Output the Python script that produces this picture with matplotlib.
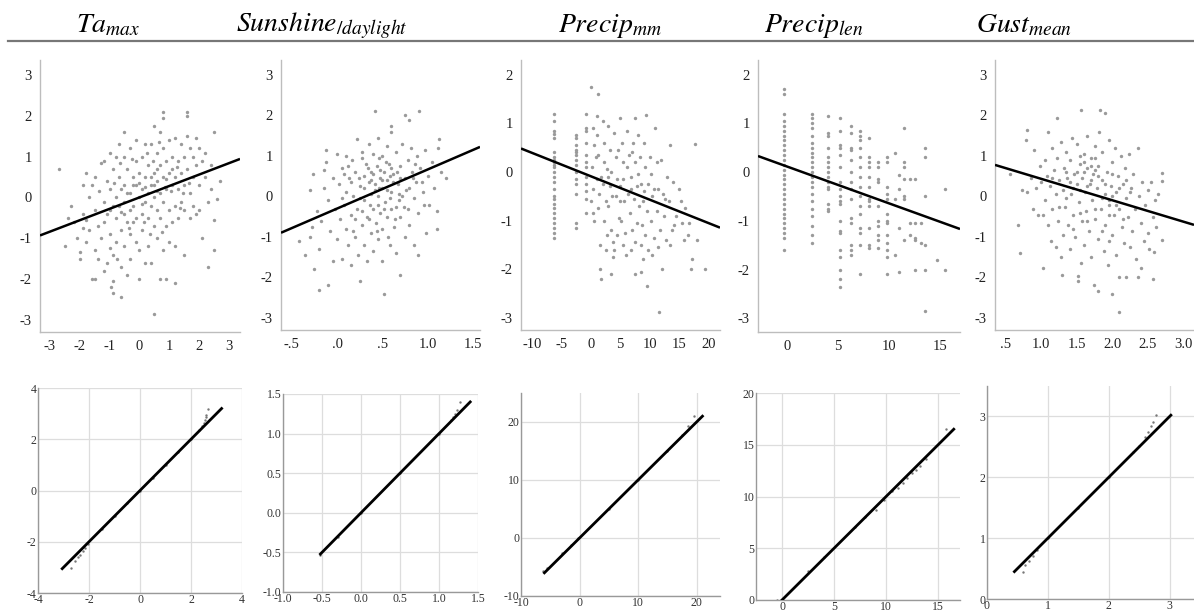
import numpy as np
import matplotlib
matplotlib.use("Agg")
import matplotlib.pyplot as plt

plt.rcParams['font.family'] = ['Liberation Serif', 'DejaVu Serif']
plt.rcParams['mathtext.fontset'] = 'stix'
plt.rcParams['axes.unicode_minus'] = False

W, H = 1194, 610

# ---- titles ----
titles = [r'$Ta_{max}$', r'$Sunshine_{/daylight}$', r'$Precip_{mm}$',
          r'$Precip_{len}$', r'$Gust_{mean}$']
title_x = [108, 322, 610, 814, 1024]

# ---- top row: scatter data ----
ta = [(-2.7,0.7),(-2.5,-1.2),(-2.3,-0.2),(-2.4,-0.5),(-2.2,-0.6),(-2.1,-1.0),(-2.0,-1.5),(-2.0,-1.35),
      (-1.9,-0.4),(-1.9,-0.75),(-1.8,-0.55),(-1.8,-1.1),(-1.7,-0.8),(-1.7,0.0),(-1.6,-2.0),(-1.5,-2.0),
      (-1.9,0.3),(-1.8,0.6),(-1.6,0.3),(-1.5,0.5),(-1.5,-0.3),(-1.5,-1.3),(-1.4,-1.5),(-1.3,0.85),
      (-1.2,0.9),(-1.2,-0.1),(-1.2,-0.6),(-1.3,-1.0),(-1.2,-1.8),(-1.1,-1.6),(-1.1,0.4),(-1.0,1.1),
      (-1.0,0.2),(-1.0,-0.3),(-1.0,-0.9),(-1.0,-1.25),(-0.9,-1.4),(-0.9,-2.05),(-0.95,-2.2),(-0.9,-2.35),
      (-0.9,0.7),(-0.8,1.0),(-0.8,0.0),(-0.8,-0.5),(-0.8,-1.1),(-0.75,-1.5),(-0.7,1.3),(-0.7,0.5),
      (-0.7,-0.2),(-0.6,-2.45),(-0.6,-0.8),(-0.6,-1.7),(-0.5,1.6),(-0.5,1.0),(-0.5,0.3),(-0.5,-0.4),
      (-0.5,-1.2),(-0.4,0.7),(-0.4,-0.6),(-0.4,-1.9),(-0.3,1.2),(-0.3,0.1),(-0.3,-0.9),(-0.3,-1.5),
      (-0.2,0.5),(-0.2,-0.2),(-0.2,-0.6),(-0.1,1.4),(-0.1,0.9),(-0.1,0.3),(-0.1,-0.5),(-0.1,-1.1),
      (0.0,0.0),(0.0,0.6),(0.0,-2.0),(0.0,-1.3),(0.1,1.0),(0.1,0.2),(0.1,-0.4),(0.1,-0.8),
      (0.2,1.3),(0.2,0.5),(0.2,-0.1),(0.2,-1.6),(0.3,0.8),(0.3,-0.5),(0.3,-1.2),(0.4,1.3),
      (0.4,0.3),(0.4,-0.2),(0.4,-1.6),(0.5,1.75),(0.5,0.6),(0.5,0.0),(0.5,-0.7),(0.5,-2.85),
      (0.6,1.1),(0.6,0.4),(0.6,-0.3),(0.6,-1.0),(0.7,1.6),(0.7,0.8),(0.7,0.1),(0.7,-0.5),
      (0.7,-2.0),(0.8,2.1),(0.8,1.95),(0.8,1.2),(0.8,0.5),(0.8,-0.1),(0.8,-1.3),(0.9,0.9),
      (0.9,0.2),(0.9,-0.7),(0.9,-2.0),(1.0,1.4),(1.0,0.6),(1.0,-0.3),(1.0,-1.1),(1.1,1.0),
      (1.1,0.3),(1.1,-0.6),(1.2,1.45),(1.2,0.5),(1.2,-0.2),(1.2,-1.2),(1.2,-2.1),(1.3,0.9),
      (1.3,0.2),(1.3,-0.5),(1.4,1.3),(1.4,0.6),(1.4,-0.1),(1.5,1.0),(1.5,0.3),(1.5,-0.3),
      (1.5,-1.4),(1.6,2.1),(1.6,2.0),(1.6,1.5),(1.6,0.7),(1.7,1.2),(1.7,0.1),(1.7,-0.5),
      (1.8,1.0),(1.8,0.5),(1.8,-0.2),(1.9,1.45),(1.9,0.8),(1.9,-0.4),(2.0,1.2),(2.0,0.3),
      (2.0,-0.3),(2.1,0.9),(2.1,-1.0),(2.2,0.5),(2.2,1.1),(2.3,-0.1),(2.3,-1.7),(2.4,0.8),
      (2.5,1.6),(2.5,-0.55),(2.5,-1.3),(2.6,-0.05),(2.7,0.4),(2.4,0.2),
      (-0.6,0.2),(-0.4,0.1),(-0.2,0.3),(0.0,0.35),(0.2,0.25),(0.4,0.5),(0.6,0.15),(0.3,0.1),
      (-0.3,-0.3),(0.1,-0.15),(0.5,0.3),(-0.5,-0.1),(0.9,0.45),(1.1,0.7),(-0.9,-0.2),(0.6,0.7),
      (-1.4,-0.7),(-1.1,-0.4),(-0.6,-0.35),(-0.35,-0.75),(0.15,-0.6),(0.35,-0.9),(0.75,-0.85),
      (1.05,0.15),(1.25,0.75),(1.45,0.1),(-0.65,0.85),(-0.25,0.95),(0.25,1.1),(0.65,1.35),
      (-1.35,0.15),(-0.85,0.35),(0.45,0.9),(0.85,0.25),(1.35,-0.25),(1.65,0.35)]
ta_x = [p[0] for p in ta]
ta_y = [p[1] for p in ta]

sun = [(-0.42,-1.1),(-0.35,-1.45),(-0.3,0.15),(-0.3,-1.0),(-0.27,0.55),(-0.25,-1.8),(-0.22,-0.35),
       (-0.2,-2.3),(-0.2,-1.3),(-0.18,-0.6),(-0.15,0.2),(-0.12,1.15),(-0.12,0.85),(-0.1,-2.2),
       (-0.1,-0.1),(-0.08,-0.85),(-0.05,0.45),(-0.05,-1.6),(-0.02,-0.3),(0.0,1.05),(0.0,-1.05),
       (0.02,0.3),(0.03,-0.55),(0.05,0.7),(0.05,-1.55),(0.08,-0.2),(0.1,1.0),(0.1,0.1),(0.1,-0.8),
       (0.12,-1.2),(0.13,0.45),(0.15,-1.7),(0.15,-0.45),(0.17,0.9),(0.18,0.0),(0.2,-1.0),(0.2,0.6),
       (0.22,1.43),(0.22,-0.3),(0.23,-1.45),(0.25,0.25),(0.25,-2.1),(0.27,-0.7),(0.28,1.1),(0.3,0.5),
       (0.3,-0.1),(0.3,-1.2),(0.32,0.8),(0.33,-0.5),(0.33,-1.6),(0.35,0.35),(0.35,1.3),(0.37,-0.9),
       (0.37,0.05),(0.38,0.6),(0.4,-0.3),(0.4,1.05),(0.4,-1.35),(0.42,2.1),(0.42,0.3),(0.43,-0.65),
       (0.44,0.75),(0.45,1.45),(0.45,0.0),(0.45,-1.05),(0.47,0.45),(0.48,-0.4),(0.5,1.0),(0.5,0.2),
       (0.5,-0.8),(0.5,-1.6),(0.52,-2.42),(0.52,0.6),(0.53,-0.15),(0.55,1.25),(0.55,0.4),(0.55,-0.5),
       (0.57,0.8),(0.58,-1.2),(0.6,1.75),(0.6,1.6),(0.6,0.1),(0.6,-0.3),(0.62,0.55),(0.63,-0.75),
       (0.65,1.1),(0.65,-1.4),(0.67,0.3),(0.68,-0.1),(0.7,0.75),(0.7,-1.95),(0.7,-0.5),(0.72,1.3),
       (0.72,0.0),(0.75,2.0),(0.75,0.45),(0.75,-1.0),(0.78,0.9),(0.78,-0.3),(0.8,1.9),(0.8,0.2),
       (0.8,-0.7),(0.82,1.2),(0.83,0.6),(0.85,-1.2),(0.85,-0.05),(0.87,0.35),(0.88,1.0),(0.9,-1.45),
       (0.9,-0.4),(0.91,2.1),(0.92,0.7),(0.95,0.1),(0.97,1.15),(0.98,-0.9),(1.0,0.5),(1.02,-0.2),
       (1.05,0.85),(1.07,0.2),(1.1,-0.35),(1.1,-0.8),(1.13,1.42),(1.15,0.6),(1.2,0.45),(1.12,1.2),
       (-0.28,-0.75),(-0.15,0.65),(0.08,0.55),(0.27,0.95),(0.36,-0.2),(0.46,0.95),(0.56,-1.0),
       (0.66,0.6),(0.76,0.15),(0.86,0.8),(0.96,-0.2),(0.4,0.55),(0.5,0.4),(0.6,0.7),(0.35,-0.55),
       (0.45,-0.2),(0.25,-0.05),(0.15,0.35),(0.65,-0.25),(0.55,0.15),(0.42,0.15),(0.52,-0.3),
       (0.62,0.35),(0.38,0.4),(0.48,0.65),(0.58,0.5),(0.68,0.05),(0.3,0.2),(0.2,-0.55),(0.7,0.45),
       (0.05,-0.05),(0.12,0.75),(0.18,-0.85),(0.28,-0.35),(0.34,0.7),(0.44,-0.85),(0.54,0.85),
       (0.64,-0.55),(0.74,-0.25),(0.84,0.45),(0.94,0.35),(0.24,0.45),(0.46,0.2),(0.58,-0.05)]
sun_x = [p[0] for p in sun]
sun_y = [p[1] for p in sun]

pmm_col_a = [1.2,1.05,0.85,0.78,0.7,0.4,0.3,0.25,0.2,0.15,0.1,0.0,-0.1,-0.2,-0.35,-0.5,-0.55,
             -0.65,-0.75,-0.85,-0.95,-1.05,-1.15,-1.25,-1.35]
pmm_col_b = [0.75,0.7,0.55,0.45,0.4,0.35,0.25,0.15,0.0,-0.15,-0.25,-0.45,-1.05,-1.15]
pmm_col_c = [1.2,0.9,0.85,0.6,0.35,0.2,0.1,-0.1,-0.25,-0.4,-0.55,-0.85]
pmm = [(0.0,1.74),(0.3,0.9),(0.5,0.55),(0.2,0.1),(0.4,-0.35),(0.1,-0.6),(0.3,-0.85),(0.6,-1.0),
       (1.0,1.15),(1.2,1.6),(1.1,0.75),(1.3,0.35),(1.0,-0.15),(1.4,-0.45),(1.2,-0.75),(1.5,-1.5),
       (1.5,-2.0),(1.8,-2.2),(2.0,1.05),(2.2,0.6),(2.3,0.2),(2.0,-0.25),(2.5,-0.6),(2.2,-1.0),
       (2.8,-1.3),(2.5,-1.6),(3.0,0.95),(3.3,0.45),(3.5,0.0),(3.2,-0.3),(3.0,-0.7),(3.5,-1.2),
       (3.8,-1.75),(3.4,-2.1),(3.7,-1.45),(4.0,0.8),(4.3,0.3),(4.5,-0.15),(4.2,-0.5),(4.8,-0.95),
       (4.5,-1.3),(4.0,-1.6),(5.0,1.1),(5.3,0.6),(5.5,0.2),(5.0,-0.3),(5.7,-0.6),(5.2,-1.0),
       (5.5,-1.5),(6.0,-1.7),(5.8,-1.25),(6.2,0.85),(6.5,0.35),(6.8,-0.1),(6.3,-0.45),(6.6,-0.85),
       (7.0,-1.2),(6.8,-1.6),(7.2,0.6),(7.5,1.1),(7.5,0.2),(7.8,-0.3),(7.3,-0.55),(7.8,-1.05),
       (7.5,-2.1),(7.6,-1.45),(8.0,0.75),(8.3,0.3),(8.5,-0.25),(8.2,-0.7),(8.7,-1.1),(8.5,-1.5),
       (8.5,-2.05),(8.8,-1.8),(9.0,0.6),(9.4,1.16),(9.3,0.1),(9.0,-0.4),(9.5,-0.8),(9.2,-1.3),
       (9.5,-2.35),(9.8,-1.6),(10.0,0.3),(10.3,-0.05),(10.5,-0.5),(10.2,-1.0),(10.8,-1.35),
       (10.5,-1.7),(11.0,0.9),(11.2,0.2),(11.5,-0.35),(11.3,-0.8),(11.6,-2.88),(11.8,-1.2),
       (11.5,-1.55),(12.0,0.25),(12.3,-0.45),(12.5,-0.9),(12.2,-2.0),(12.8,-1.4),(13.0,-0.1),
       (13.5,0.55),(13.3,-0.6),(13.8,-1.2),(13.5,-1.5),(14.0,-0.2),(14.5,-0.9),(14.2,-1.1),
       (15.0,-0.35),(15.3,-0.6),(15.5,-1.05),(15.8,-1.4),(16.0,-0.75),(16.5,-1.3),(17.0,-2.0),
       (17.3,-1.8),(17.7,0.58),(18.0,-1.4),(19.5,-2.0),(16.8,-1.05),
       (0.8,0.3),(1.7,-0.1),(2.7,0.05),(3.6,-0.5),(4.6,0.45),(5.4,-0.15),(6.1,0.1),(6.9,-0.35),
       (7.0,0.4),(8.1,-0.05),(8.9,-0.6),(9.7,-0.25),(10.7,-0.35),(12.6,-0.55),(4.9,-0.6),(2.9,-0.1)]
pmm_x = [-6.2] * len(pmm_col_a) + [-2.6] * len(pmm_col_b) + [-0.9] * len(pmm_col_c) + [p[0] for p in pmm]
pmm_y = pmm_col_a + pmm_col_b + pmm_col_c + [p[1] for p in pmm]

# precip length: discrete x values, each with its y values
plen_cols = {
    -0.3: [1.7,1.6,1.2,1.05,0.95,0.85,0.75,0.65,0.55,0.45,0.35,0.25,0.15,0.05,-0.05,-0.15,-0.25,
           -0.35,-0.45,-0.55,-0.65,-0.75,-0.85,-0.95,-1.05,-1.15,-1.25,-1.35,-1.6],
    2.5: [1.2,1.1,1.0,0.9,0.75,0.6,0.5,0.4,0.3,0.2,0.1,0.0,-0.1,-0.2,-0.3,-0.45,-0.6,-0.75,-0.9,
          -1.1,-1.3,-1.45],
    4.0: [1.15,0.8,0.75,0.5,0.3,0.2,0.1,0.0,-0.1,-0.2,-0.3,-0.35,-0.65,-0.75,-0.8],
    5.2: [1.1,0.85,0.55,0.5,0.35,0.1,-0.2,-0.35,-0.5,-0.6,-0.65,-1.0,-1.2,-1.25,-1.6,-1.75,-2.0,
          -2.2,-2.35],
    6.3: [0.95,0.8,0.5,0.45,0.25,0.0,-0.2,-0.35,-0.55,-0.95,-1.05,-1.5,-1.6,-1.7],
    7.2: [0.85,0.75,0.65,0.5,0.3,0.1,-0.1,-0.3,-0.5,-0.7,-0.85,-1.15,-1.25,-1.5,-2.1],
    8.1: [0.7,0.3,0.2,0.1,-0.1,-0.3,-0.55,-0.6,-0.7,-1.15,-1.5,-1.55],
    8.9: [0.2,0.1,-0.15,-0.2,-0.7,-1.0,-1.1,-1.3,-1.4,-1.55],
    9.8: [0.3,0.2,-0.3,-0.45,-0.55,-0.85,-1.0,-1.05,-1.3,-1.45,-1.6,-1.75,-2.1],
    10.6: [0.4,-0.55,-1.7],
    11.0: [-0.05,-0.35,-1.15,-2.05],
    11.5: [0.9,0.2,0.1,-0.15,-0.5,-0.55,-1.4],
    12.1: [-0.15,-1.05,-1.3],
    12.6: [-0.15,-1.05,-1.35,-1.4,-2.0],
    13.2: [-1.05,-1.45],
    13.6: [0.5,0.3,-0.5,-1.5,-2.0,-2.85],
    14.7: [-1.8],
    15.5: [-0.35,-2.0],
}
plen_x = [x for x, ys in plen_cols.items() for _ in ys]
plen_y = [y for ys in plen_cols.values() for y in ys]

gust = [(0.55,0.55),(0.67,-0.7),(0.7,-1.4),(0.72,0.15),(0.78,1.4),(0.8,1.64),(0.8,0.1),(0.85,0.45),
        (0.88,-0.3),(0.9,1.15),(0.92,0.2),(0.95,-0.45),(0.98,0.75),(1.0,0.35),(1.02,-1.77),
        (1.02,-0.45),(1.05,0.9),(1.05,-0.1),(1.08,0.5),(1.1,1.6),(1.1,-0.7),(1.12,0.25),(1.13,-1.1),
        (1.15,1.2),(1.15,-0.3),(1.18,0.65),(1.2,-1.25),(1.2,0.05),(1.22,1.93),(1.22,0.95),
        (1.24,-0.6),(1.25,0.4),(1.27,-1.5),(1.28,1.35),(1.29,-1.93),(1.3,0.15),(1.3,-0.95),
        (1.32,0.7),(1.33,-0.25),(1.35,1.1),(1.36,0.45),(1.38,-0.7),(1.4,-1.3),(1.4,0.9),(1.42,0.05),
        (1.43,1.45),(1.45,-0.45),(1.46,0.55),(1.48,-1.0),(1.5,1.3),(1.5,0.3),(1.52,-1.97),
        (1.52,-2.1),(1.53,-0.15),(1.55,0.8),(1.56,2.14),(1.56,-1.65),(1.57,-0.6),(1.58,0.45),
        (1.6,1.05),(1.6,-1.2),(1.62,0.1),(1.63,-0.35),(1.65,0.7),(1.65,1.5),(1.67,-0.85),(1.68,0.3),
        (1.7,-1.5),(1.7,0.95),(1.72,-0.1),(1.73,0.55),(1.74,-2.2),(1.75,1.25),(1.76,-0.55),
        (1.78,0.2),(1.8,-1.05),(1.8,0.75),(1.8,-2.34),(1.82,1.6),(1.83,2.14),(1.84,-0.3),(1.85,0.4),
        (1.86,1.1),(1.88,-1.35),(1.9,2.05),(1.9,0.05),(1.9,-0.7),(1.92,0.6),(1.94,-1.7),(1.95,1.4),
        (1.96,-0.2),(1.98,0.25),(2.0,-2.42),(2.0,-0.95),(2.0,0.85),(2.02,-0.45),(2.04,1.2),
        (2.05,0.1),(2.06,-1.45),(2.08,0.5),(2.1,-2.85),(2.1,-2.0),(2.1,-0.3),(2.12,1.0),
        (2.14,-0.75),(2.15,0.3),(2.17,-1.15),(2.18,0.7),(2.2,-2.0),(2.2,-0.05),(2.22,-0.5),
        (2.24,1.05),(2.25,-1.25),(2.27,0.2),(2.28,-0.85),(2.3,0.55),(2.32,-0.3),(2.34,-1.55),
        (2.36,1.2),(2.36,-1.98),(2.38,0.0),(2.4,-0.65),(2.41,-1.77),(2.42,0.35),(2.45,-1.1),
        (2.47,-0.2),(2.5,0.15),(2.5,-0.9),(2.52,-1.3),(2.55,0.35),(2.57,-0.5),(2.58,-2.05),
        (2.59,-1.38),(2.6,-0.1),(2.62,-0.75),(2.65,0.05),(2.7,0.58),(2.7,0.37),(2.7,-1.07),
        (1.6,0.6),(1.7,0.4),(1.75,0.65),(1.65,0.25),(1.85,-0.05),(1.95,-0.1),(2.05,-0.2),
        (1.55,0.15),(1.45,0.2),(1.35,-0.05),(1.7,0.75),(1.8,0.5),(1.9,0.3),(2.0,0.0),(1.6,0.85),
        (1.5,0.6),(1.4,0.35),(1.75,-0.3),(2.1,0.2),(2.2,0.4),
        (1.25,-0.25),(1.45,-0.8),(1.55,-0.4),(1.65,-0.6),(1.85,-0.85),(1.95,-0.45),(2.15,-0.55),
        (1.35,0.6),(1.55,1.0),(1.75,0.95),(2.0,0.55),(2.25,0.1),(1.15,0.45),(1.95,-1.1)]
gust_x = [p[0] for p in gust]
gust_y = [p[1] for p in gust]

scatter_x = [ta_x, sun_x, pmm_x, plen_x, gust_x]
scatter_y = [ta_y, sun_y, pmm_y, plen_y, gust_y]

# fitted lines: slope, intercept
fit_slope = [0.28, 0.964, -0.048, -0.0754, -0.527]
fit_icept = [0.0, -0.30, -0.09, 0.115, 0.96]

top_xlim = [(-3.33, 3.37), (-0.62, 1.58), (-11.9, 22.0), (-2.85, 17.0), (0.345, 3.155)]
top_ylim = [(-3.3, 3.37), (-3.3, 3.37), (-3.25, 2.3), (-3.28, 2.3), (-3.3, 3.37)]
top_xticks = [[-3, -2, -1, 0, 1, 2, 3], [-0.5, 0, 0.5, 1.0, 1.5], [-10, -5, 0, 5, 10, 15, 20],
              [0, 5, 10, 15], [0.5, 1.0, 1.5, 2.0, 2.5, 3.0]]
top_xlabels = [['-3', '-2', '-1', '0', '1', '2', '3'], ['-.5', '.0', '.5', '1.0', '1.5'],
               ['-10', '-5', '0', '5', '10', '15', '20'], ['0', '5', '10', '15'],
               ['.5', '1.0', '1.5', '2.0', '2.5', '3.0']]
top_yticks = [[-3, -2, -1, 0, 1, 2, 3], [-3, -2, -1, 0, 1, 2, 3], [-3, -2, -1, 0, 1, 2],
              [-3, -2, -1, 0, 1, 2], [-3, -2, -1, 0, 1, 2, 3]]

# ---- bottom row: Q-Q plots ----
qq_ta = [(-2.71,-3.01),(-2.56,-2.74),(-2.45,-2.6),(-2.35,-2.5),(-2.25,-2.38),(-2.15,-2.25),
         (-2.05,-2.1),(-1.5,-1.5),(-1.0,-1.0),(-0.5,-0.5),(0.0,0.0),(0.5,0.5),(1.0,1.0),(1.5,1.5),
         (2.0,2.0),(2.3,2.35),(2.45,2.5),(2.52,2.65),(2.55,2.75),(2.58,2.85),(2.6,2.95),(2.65,3.2)]
qq_sun = [(-0.52,-0.53),(-0.3,-0.3),(0.0,0.0),(0.5,0.5),(1.0,1.0),(1.15,1.17),(1.18,1.21),
          (1.21,1.25),(1.23,1.3),(1.27,1.4)]
qq_pmm = [(-6.2,-5.7),(-5.5,-5.2),(-3.0,-2.5),(-1.5,-1.2),(-0.3,0.0),(5.0,5.0),(10.0,10.0),
          (15.0,15.0),(17.5,17.8),(18.5,19.3),(19.5,21.0)]
qq_plen = [(-0.5,0.0),(2.5,2.8),(4.0,4.2),(7.0,7.1),(8.0,8.0),(9.0,8.7),(9.8,9.7),(10.6,10.5),
           (11.1,10.8),(11.6,11.3),(12.0,11.8),(12.5,12.3),(12.9,12.6),(13.3,12.9),(13.8,13.6),
           (15.8,16.5)]
qq_gust = [(0.59,0.44),(0.63,0.56),(0.69,0.62),(0.76,0.70),(0.82,0.8),(1.0,1.0),(1.5,1.5),
           (2.0,2.0),(2.4,2.42),(2.5,2.52),(2.59,2.66),(2.65,2.74),(2.7,2.85),(2.73,2.91),
           (2.78,3.03)]
qq_points = [qq_ta, qq_sun, qq_pmm, qq_plen, qq_gust]
qq_line = [(-3.05, 3.2), (-0.52, 1.4), (-6.0, 21.0), (0.0, 16.5), (0.45, 3.02)]

bot_xlim = [(-4, 4), (-1.0, 1.5), (-10, 24), (-2.5, 17.1), (0, 3.4)]
bot_ylim = [(-4, 4), (-1.0, 1.5), (-10, 25), (0, 20), (0, 3.5)]
bot_xticks = [[-4, -2, 0, 2, 4], [-1.0, -0.5, 0.0, 0.5, 1.0, 1.5], [-10, 0, 10, 20],
              [0, 5, 10, 15], [0, 1, 2, 3]]
bot_xlabels = [['-4', '-2', '0', '2', '4'], ['-1.0', '-0.5', '0.0', '0.5', '1.0', '1.5'],
               ['-10', '0', '10', '20'], ['0', '5', '10', '15'], ['0', '1', '2', '3']]
bot_yticks = [[-4, -2, 0, 2, 4], [-1.0, -0.5, 0.0, 0.5, 1.0, 1.5], [-10, 0, 10, 20],
              [0, 5, 10, 15, 20], [0, 1, 2, 3]]
bot_ylabels = [['-4', '-2', '0', '2', '4'], ['-1.0', '-0.5', '0.0', '0.5', '1.0', '1.5'],
               ['-10', '0', '10', '20'], ['0', '5', '10', '15', '20'], ['0', '1', '2', '3']]

# panel boxes in pixels: left, top, right, bottom
top_boxes = [(40, 60, 240, 332), (281, 60, 480, 330), (521, 60, 720, 330),
             (758, 60, 960, 332), (995, 60, 1194, 330)]
bot_boxes = [(38, 388, 242, 593), (283, 394, 478, 592), (521, 393, 720, 596),
             (756, 393, 960, 600), (987, 386, 1194, 599)]


def rect(box):
    l, t, r, b = box
    return [l / W, 1 - b / H, (r - l) / W, (b - t) / H]


fig = plt.figure(figsize=(W / 100, H / 100), dpi=100)

for i in range(5):
    fig.text(title_x[i] / W, 1 - 26 / H, titles[i], fontsize=20, ha='center', va='center')

# rule under the titles
fig.add_artist(plt.Line2D([8 / W, 1], [1 - 41 / H, 1 - 41 / H], color='#777777', lw=1.6))

for i in range(5):
    ax = fig.add_axes(rect(top_boxes[i]))
    ax.scatter(scatter_x[i], scatter_y[i], s=6, color='#9a9a9a', linewidths=0, zorder=2)
    xs = np.array(top_xlim[i])
    ax.plot(xs, fit_slope[i] * xs + fit_icept[i], color='black', lw=1.8, zorder=3,
            solid_capstyle='butt')
    ax.set_xlim(top_xlim[i])
    ax.set_ylim(top_ylim[i])
    ax.set_xticks(top_xticks[i])
    ax.set_xticklabels(top_xlabels[i])
    ax.set_yticks(top_yticks[i])
    for s in ['top', 'right']:
        ax.spines[s].set_visible(False)
    for s in ['left', 'bottom']:
        ax.spines[s].set_color('#bdbdbd')
        ax.spines[s].set_linewidth(1.0)
    ax.tick_params(length=0, labelsize=10.5, colors='#222222', pad=6)

for i in range(5):
    ax = fig.add_axes(rect(bot_boxes[i]))
    px = [p[0] for p in qq_points[i]]
    py = [p[1] for p in qq_points[i]]
    ax.scatter(px, py, s=3, color='#777777', linewidths=0, zorder=2)
    ax.plot(qq_line[i], qq_line[i], color='black', lw=2.0, zorder=3)
    ax.set_xlim(bot_xlim[i])
    ax.set_ylim(bot_ylim[i])
    ax.set_xticks(bot_xticks[i])
    ax.set_xticklabels(bot_xlabels[i])
    ax.set_yticks(bot_yticks[i])
    ax.set_yticklabels(bot_ylabels[i])
    ax.grid(True, color='#dddddd', lw=0.9)
    ax.set_axisbelow(True)
    for s in ['top', 'right']:
        ax.spines[s].set_visible(False)
    for s in ['left', 'bottom']:
        ax.spines[s].set_color('#999999')
        ax.spines[s].set_linewidth(1.0)
    ax.tick_params(length=0, labelsize=8.5, colors='#333333', pad=1)

fig.savefig('out.png', dpi=100)
